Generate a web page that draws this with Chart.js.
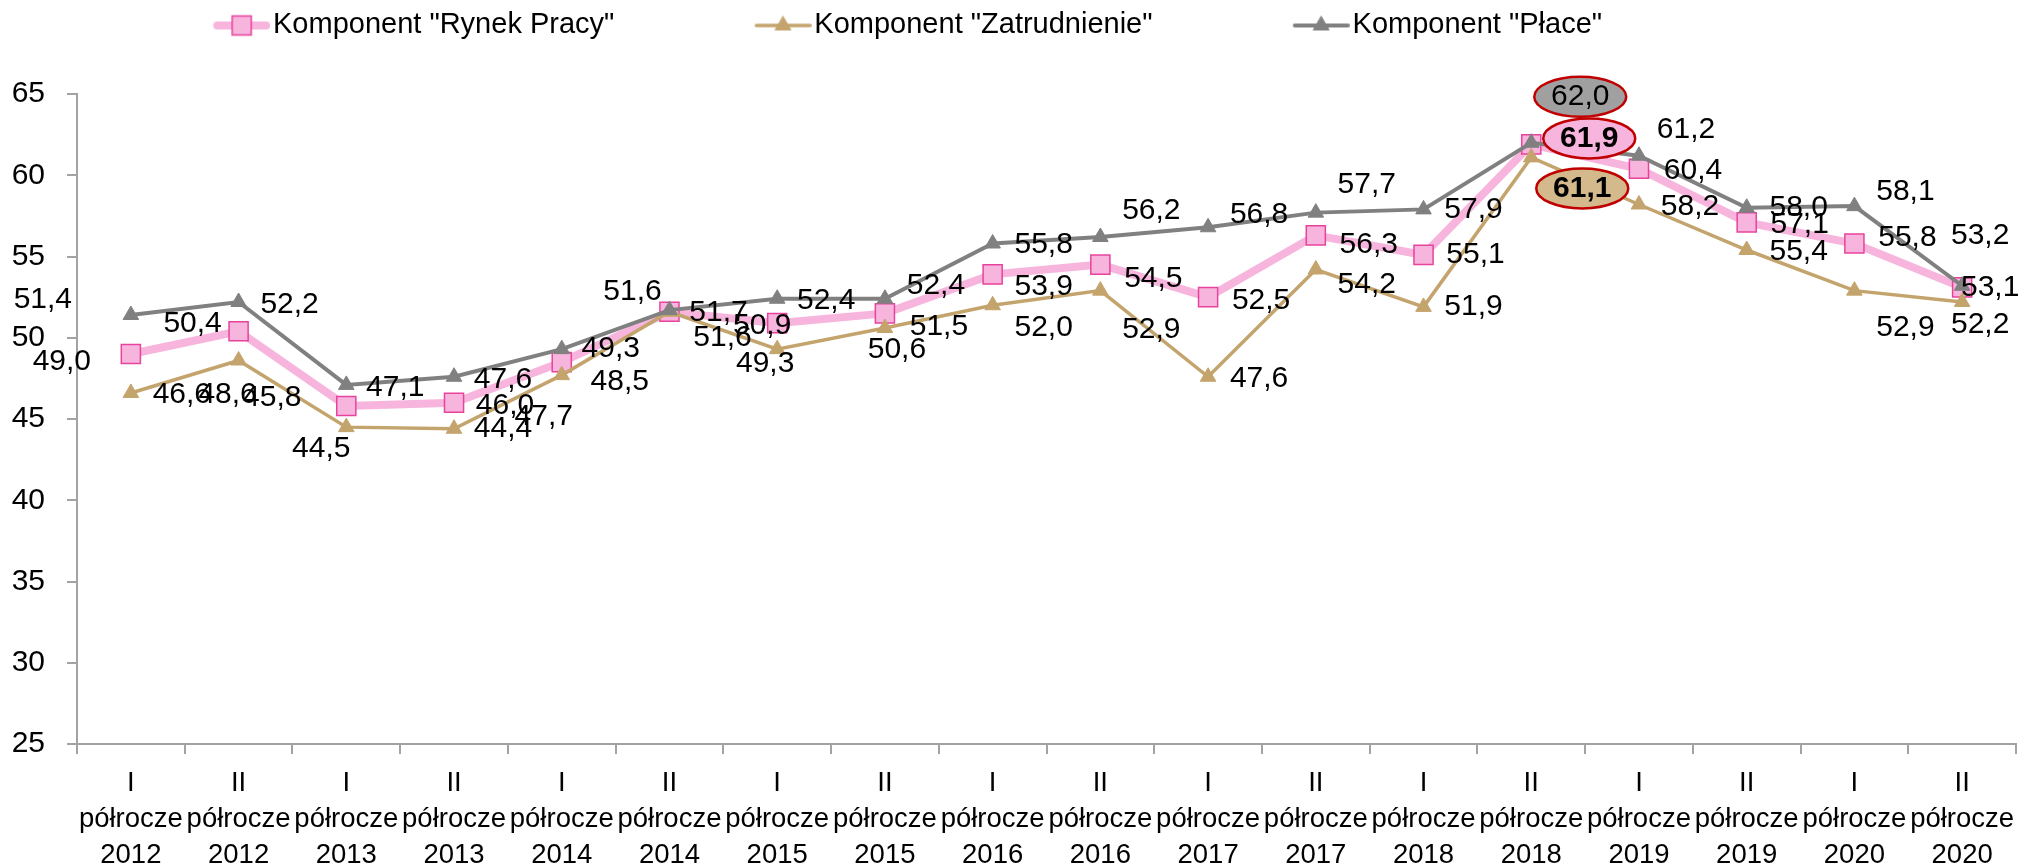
<!DOCTYPE html>
<html>
<head>
<meta charset="utf-8">
<script src="https://cdn.jsdelivr.net/npm/chart.js"></script>
<style>
  html, body { margin: 0; padding: 0; background: #fff; }
  #wrap { width: 2031px; height: 866px; }
</style>
</head>
<body>
<div id="wrap"><canvas id="myChart"></canvas></div>
<script>
// categories
const halves = ['I', 'II', 'I', 'II', 'I', 'II', 'I', 'II', 'I', 'II', 'I', 'II', 'I', 'II', 'I', 'II', 'I', 'II'];
const years = [2012, 2012, 2013, 2013, 2014, 2014, 2015, 2015, 2016, 2016, 2017, 2017, 2018, 2018, 2019, 2019, 2020, 2020];

// series
const rynekPracy = [49.0, 50.4, 45.8, 46.0, 48.5, 51.6, 50.9, 51.5, 53.9, 54.5, 52.5, 56.3, 55.1, 61.9, 60.4, 57.1, 55.8, 53.1];
const zatrudnienie = [46.6, 48.6, 44.5, 44.4, 47.7, 51.6, 49.3, 50.6, 52.0, 52.9, 47.6, 54.2, 51.9, 61.1, 58.2, 55.4, 52.9, 52.2];
const place = [51.4, 52.2, 47.1, 47.6, 49.3, 51.7, 52.4, 52.4, 55.8, 56.2, 56.8, 57.7, 57.9, 62.0, 61.2, 58.0, 58.1, 53.2];

// y axis
const yMin = 25, yMax = 65, yStep = 5;

// where each value label sits relative to its point (px)
const offRynek = [[-69, 8], [-46, -8], [-74, -8], [51, 3], [58, 20], [-37, -20], [-15, 3], [54, 13], [51, 12],
  [53, 14], [53, 4], [53, 9], [52, 0], [58, -6], [54, 2], [53, 2], [53, -6], [28, 0]];
const offZatr = [[51, 2], [-11, 34], [-25, 22], [49, 0], [-18, 42], [53, 26], [-12, 15], [12, 22], [51, 22],
  [51, 39], [51, 2], [51, 15], [50, 0], [51, 31], [51, 2], [52, 2], [51, 37], [18, 23]];
const offPlace = [[-88, -15], [51, 3], [49, 3], [49, 3], [49, 0], [49, 3], [49, 2], [51, -13], [51, 1],
  [51, -26], [51, -13], [51, -28], [50, 0], [49, -46], [47, -26], [52, 0], [51, -14], [18, -50]];
const highlightIndex = 13;

const FONT = "'Liberation Sans', Arial, sans-serif";
const axisColor = '#a3a3a3';
Chart.defaults.font.family = FONT;
Chart.defaults.color = '#000';

const categories = halves.map((h, i) => [h, 'półrocze', String(years[i])]);

// legend symbol: line with the marker in the middle, drawn at the right end of a wide icon
function legendIcon(ds) {
  const c = document.createElement('canvas');
  c.width = 199; c.height = 36;
  const g = c.getContext('2d');
  const cy = 19, x1 = c.width - 57, x2 = c.width;
  g.strokeStyle = ds.borderColor;
  g.lineWidth = ds.borderWidth;
  g.lineCap = 'round';
  g.beginPath();
  g.moveTo(x1 + ds.borderWidth / 2, cy);
  g.lineTo(x2 - ds.borderWidth / 2, cy);
  g.stroke();
  g.fillStyle = ds.pointBackgroundColor;
  g.strokeStyle = ds.pointBorderColor;
  g.lineWidth = ds.pointBorderWidth;
  Chart.helpers.drawPoint(g, {
    pointStyle: ds.pointStyle, radius: ds.pointRadius, rotation: 0, borderWidth: ds.pointBorderWidth
  }, (x1 + x2) / 2, cy);
  return c;
}

const valueLabels = {
  id: 'valueLabels',
  afterInit(chart) {
    // leave room under the legend down to the top of the plot
    const fit = chart.legend.fit;
    chart.legend.fit = function () { fit.call(this); this.height = 94; };
  },
  afterLayout(chart) {
    // legend starts further right than the chart's left edge
    chart.legend.left = 73;
  },
  afterDatasetsDraw(chart) {
    const ctx = chart.ctx;
    chart.data.datasets.forEach((ds, di) => {
      const meta = chart.getDatasetMeta(di);
      meta.data.forEach((pt, i) => {
        const x = pt.x + ds.labelOffsets[i][0];
        const y = pt.y + ds.labelOffsets[i][1];
        const text = ds.data[i].toFixed(1).replace('.', ',');
        ctx.save();
        let bold = false;
        if (i === highlightIndex) {
          ctx.beginPath();
          ctx.ellipse(x, y, 46, 20, 0, 0, Math.PI * 2);
          ctx.fillStyle = ds.calloutFill;
          ctx.fill();
          ctx.lineWidth = 2.5;
          ctx.strokeStyle = '#c00000';
          ctx.stroke();
          bold = ds.calloutBold;
        }
        ctx.font = (bold ? 'bold ' : '') + '30px ' + FONT;
        ctx.fillStyle = '#000';
        ctx.textAlign = 'center';
        ctx.textBaseline = 'middle';
        ctx.fillText(text, x, y);
        ctx.restore();
      });
    });
  }
};

const ctx = document.getElementById('myChart').getContext('2d');
const myChart = new Chart(ctx, {
  type: 'line',
  data: {
    labels: categories,
    datasets: [{
      label: 'Komponent "Rynek Pracy"',
      data: rynekPracy,
      borderColor: '#f7b5dd',
      borderWidth: 8,
      pointStyle: 'rect',
      pointRadius: 13.5,
      pointBackgroundColor: '#f7b5dd',
      pointBorderColor: '#e8439c',
      pointBorderWidth: 1.5,
      order: 3,
      labelOffsets: offRynek,
      calloutFill: '#f7b5dd',
      calloutBold: true
    }, {
      label: 'Komponent "Zatrudnienie"',
      data: zatrudnienie,
      borderColor: '#c4a46d',
      borderWidth: 3.5,
      pointStyle: 'triangle',
      pointRadius: 9,
      pointBackgroundColor: '#c4a46d',
      pointBorderColor: '#c4a46d',
      pointBorderWidth: 1,
      order: 2,
      labelOffsets: offZatr,
      calloutFill: '#d4b98c',
      calloutBold: true
    }, {
      label: 'Komponent "Płace"',
      data: place,
      borderColor: '#808080',
      borderWidth: 4,
      pointStyle: 'triangle',
      pointRadius: 9,
      pointBackgroundColor: '#808080',
      pointBorderColor: '#808080',
      pointBorderWidth: 1,
      order: 1,
      labelOffsets: offPlace,
      calloutFill: '#a0a0a0',
      calloutBold: false
    }]
  },
  options: {
    responsive: true,
    maintainAspectRatio: false,
    animation: false,
    devicePixelRatio: 1,
    layout: { padding: { left: 0, right: 6, top: 0, bottom: 0 } },
    plugins: {
      tooltip: { enabled: false },
      legend: {
        position: 'top',
        align: 'start',
        labels: {
          usePointStyle: true,
          pointStyleWidth: 175.5,
          padding: 10,
          color: '#000',
          font: { size: 29 },
          generateLabels(chart) {
            return chart.data.datasets.map((ds, i) => ({
              text: ds.label,
              pointStyle: legendIcon(ds),
              fillStyle: ds.pointBackgroundColor,
              strokeStyle: ds.pointBorderColor,
              lineWidth: 0,
              fontColor: '#000',
              hidden: false,
              datasetIndex: i
            }));
          }
        }
      }
    },
    scales: {
      x: {
        offset: true,
        grid: { offset: true, drawOnChartArea: false, tickLength: 10, color: axisColor, lineWidth: 2 },
        border: { color: axisColor, width: 2 },
        ticks: { autoSkip: false, maxRotation: 0, padding: 11, color: '#000', font: { size: 27.5, lineHeight: 1.31 } },
        afterFit(scale) { scale.height = 122; }
      },
      y: {
        min: yMin,
        max: yMax,
        grid: { drawOnChartArea: false, tickLength: 10, color: axisColor, lineWidth: 2 },
        border: { color: axisColor, width: 2 },
        ticks: { stepSize: yStep, padding: 22, color: '#000', font: { size: 30 } },
        afterFit(scale) { scale.width = 77; }
      }
    }
  },
  plugins: [valueLabels]
});
</script>
</body>
</html>
